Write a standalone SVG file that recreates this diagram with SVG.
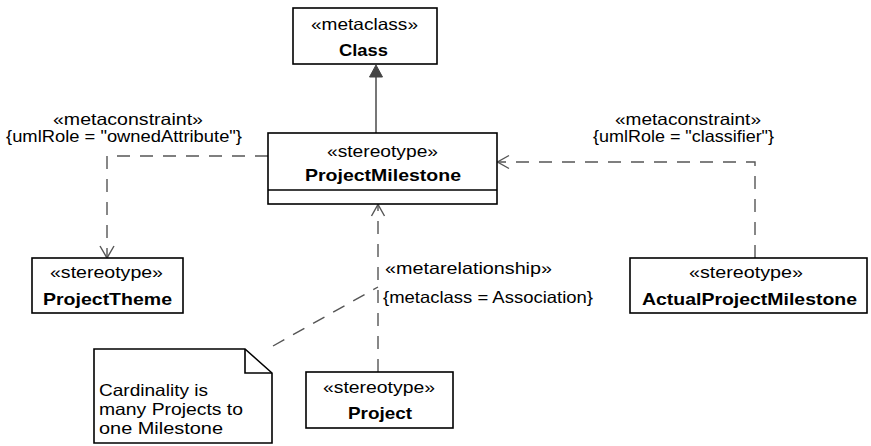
<svg xmlns="http://www.w3.org/2000/svg" width="871" height="446" viewBox="0 0 871 446">
<style>
.box{fill:#fff;stroke:#000;stroke-width:1.6}
.t{font-family:"Liberation Sans",Arial,sans-serif;font-size:16.5px;fill:#000}
.b{font-family:"Liberation Sans",Arial,sans-serif;font-size:17px;font-weight:bold;fill:#000}
.dash{fill:none;stroke:#555;stroke-width:1.4;stroke-dasharray:13,10}
.arr{fill:none;stroke:#555;stroke-width:1.4}
.sol{fill:none;stroke:#555;stroke-width:1.6}
</style>
<rect width="871" height="446" fill="#fff"/>
<g id="connectors">
  <line class="sol" x1="376" y1="133" x2="376" y2="76"/>
  <polygon points="376,65 369.5,77 382.5,77" fill="#444" stroke="#444" stroke-width="1"/>
  <polyline class="dash" points="268,156 107,156 107,257"/>
  <polyline class="arr" points="100,246 107,258 114,246"/>
  <polyline class="dash" points="755,258 755,162 498,162"/>
  <polyline class="arr" points="509,155.5 497.5,162 509,168.5"/>
  <line class="dash" x1="378" y1="372" x2="378" y2="205"/>
  <polyline class="arr" points="371.5,216 378,204.5 384.5,216"/>
  <line class="dash" x1="273" y1="346" x2="378" y2="287"/>
  <text class="t" x="53" y="125" textLength="150" lengthAdjust="spacingAndGlyphs">«metaconstraint»</text>
  <text class="t" x="6" y="142" textLength="236" lengthAdjust="spacingAndGlyphs">{umlRole = "ownedAttribute"}</text>
  <text class="t" x="615" y="125" textLength="146" lengthAdjust="spacingAndGlyphs">«metaconstraint»</text>
  <text class="t" x="593" y="142" textLength="181" lengthAdjust="spacingAndGlyphs">{umlRole = "classifier"}</text>
  <text class="t" x="385" y="274" textLength="167" lengthAdjust="spacingAndGlyphs">«metarelationship»</text>
  <text class="t" x="383" y="303" textLength="210" lengthAdjust="spacingAndGlyphs">{metaclass = Association}</text>
</g>
<g id="Class">
  <rect class="box" x="293" y="8" width="144" height="56"/>
  <text class="t" x="311" y="30" textLength="107" lengthAdjust="spacingAndGlyphs">«metaclass»</text>
  <text class="b" x="339" y="56" textLength="49" lengthAdjust="spacingAndGlyphs">Class</text>
</g>
<g id="ProjectMilestone">
  <rect class="box" x="268" y="133" width="229" height="71"/>
  <line x1="268" y1="190" x2="497" y2="190" stroke="#000" stroke-width="1.6"/>
  <text class="t" x="327" y="157" textLength="111" lengthAdjust="spacingAndGlyphs">«stereotype»</text>
  <text class="b" x="305" y="181" textLength="156" lengthAdjust="spacingAndGlyphs">ProjectMilestone</text>
</g>
<g id="ProjectTheme">
  <rect class="box" x="32" y="258" width="151" height="55"/>
  <text class="t" x="50" y="278" textLength="113" lengthAdjust="spacingAndGlyphs">«stereotype»</text>
  <text class="b" x="43" y="305" textLength="129" lengthAdjust="spacingAndGlyphs">ProjectTheme</text>
</g>
<g id="ActualProjectMilestone">
  <rect class="box" x="630" y="258" width="237" height="55"/>
  <text class="t" x="689" y="278" textLength="114" lengthAdjust="spacingAndGlyphs">«stereotype»</text>
  <text class="b" x="642" y="305" textLength="215" lengthAdjust="spacingAndGlyphs">ActualProjectMilestone</text>
</g>
<g id="Project">
  <rect class="box" x="306" y="372" width="147" height="56"/>
  <text class="t" x="323" y="393" textLength="112" lengthAdjust="spacingAndGlyphs">«stereotype»</text>
  <text class="b" x="348" y="419" textLength="64" lengthAdjust="spacingAndGlyphs">Project</text>
</g>
<g id="Note">
  <path class="box" d="M94,349 H245 L272,373 V443 H94 Z"/>
  <polyline points="245,349 245,373 272,373" fill="none" stroke="#000" stroke-width="1.6"/>
  <text class="t" x="99" y="396" textLength="109" lengthAdjust="spacingAndGlyphs">Cardinality is</text>
  <text class="t" x="99" y="415" textLength="144" lengthAdjust="spacingAndGlyphs">many Projects to</text>
  <text class="t" x="99" y="434" textLength="124" lengthAdjust="spacingAndGlyphs">one Milestone</text>
</g>
</svg>
